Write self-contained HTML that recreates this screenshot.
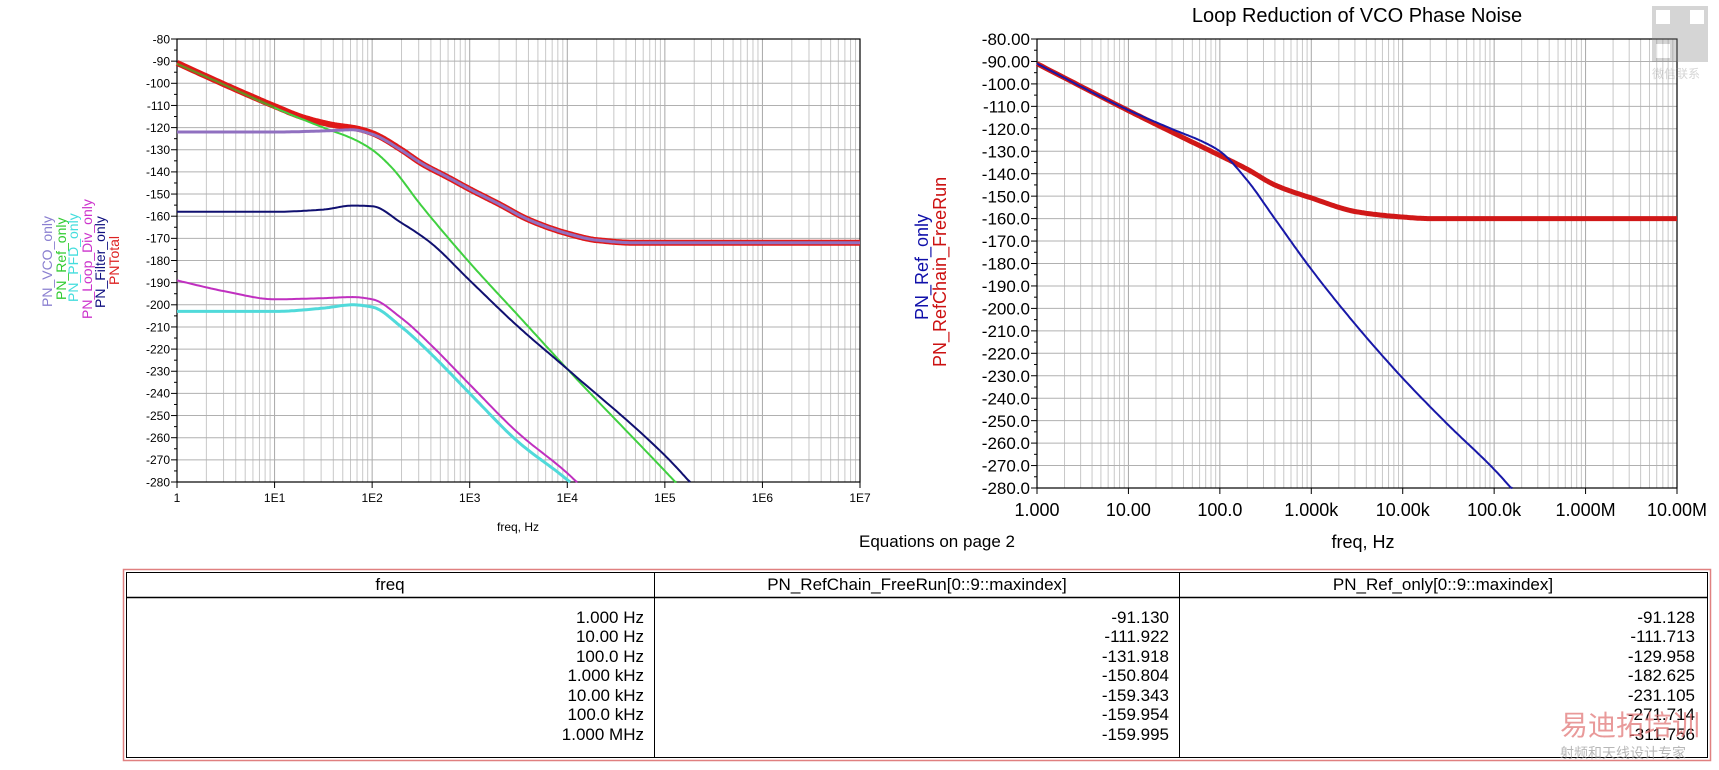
<!DOCTYPE html>
<html><head><meta charset="utf-8">
<style>
html,body{margin:0;padding:0;background:#fff;}
svg{display:block;font-family:"Liberation Sans",Arial,sans-serif;}
</style></head>
<body>
<svg id="s" width="1719" height="770" xmlns="http://www.w3.org/2000/svg">
<rect width="1719" height="770" fill="#fff"/>
<g id="grid"></g>
<g id="curves"></g>
<g id="labels"></g>

<!-- left legend -->
<g font-size="14">
<text transform="translate(52,307) rotate(-90)" fill="#8a7fd0">PN_VCO_only</text>
<text transform="translate(66,300) rotate(-90)" fill="#33cc33">PN_Ref_only</text>
<text transform="translate(78,302) rotate(-90)" fill="#44dddd">PN_PFD_only</text>
<text transform="translate(92,319) rotate(-90)" fill="#cc33cc">PN_Loop_Div_only</text>
<text transform="translate(105,308) rotate(-90)" fill="#101080">PN_Filter_only</text>
<text transform="translate(119,285) rotate(-90)" fill="#dd2222">PNTotal</text>
</g>
<!-- right legend -->
<g font-size="18">
<text transform="translate(928,320) rotate(-90)" fill="#1010aa">PN_Ref_only</text>
<text transform="translate(946,367) rotate(-90)" fill="#cc1111">PN_RefChain_FreeRun</text>
</g>

<text x="1357" y="22" font-size="20" text-anchor="middle" fill="#000">Loop Reduction of VCO Phase Noise</text>
<text x="518" y="531" font-size="12" text-anchor="middle">freq, Hz</text>
<text x="1363" y="548" font-size="18" text-anchor="middle">freq, Hz</text>
<text x="937" y="547" font-size="17" text-anchor="middle">Equations on page 2</text>

<!-- QR watermark -->
<g opacity="0.35">
<rect x="1652" y="6" width="56" height="56" fill="#888"/>
<rect x="1656" y="10" width="14" height="14" fill="#fff"/><rect x="1690" y="10" width="14" height="14" fill="#fff"/><rect x="1656" y="44" width="14" height="14" fill="#fff"/>
<text x="1652" y="78" font-size="12" fill="#888" font-family="Noto Sans CJK SC,sans-serif">微信联系</text>
</g>

<!-- table -->
<g>
<rect x="123.5" y="569.5" width="1587" height="191" fill="none" stroke="#e08080" stroke-width="1.5"/>
<rect x="126.5" y="572.5" width="1581" height="185" fill="none" stroke="#000" stroke-width="1"/>
<line x1="126" y1="597.5" x2="1708" y2="597.5" stroke="#000" stroke-width="1.5"/>
<line x1="654.5" y1="572" x2="654.5" y2="758" stroke="#000"/>
<line x1="1179.5" y1="572" x2="1179.5" y2="758" stroke="#000"/>
<g font-size="17" text-anchor="middle">
<text x="390" y="590">freq</text>
<text x="917" y="590">PN_RefChain_FreeRun[0::9::maxindex]</text>
<text x="1443" y="590">PN_Ref_only[0::9::maxindex]</text>
</g>
<g font-size="17" text-anchor="end">
<text x="644" y="623">1.000  Hz</text><text x="644" y="642">10.00  Hz</text><text x="644" y="662">100.0  Hz</text><text x="644" y="681">1.000 kHz</text><text x="644" y="701">10.00 kHz</text><text x="644" y="720">100.0 kHz</text><text x="644" y="740">1.000 MHz</text>
<text x="1169" y="623">-91.130</text><text x="1169" y="642">-111.922</text><text x="1169" y="662">-131.918</text><text x="1169" y="681">-150.804</text><text x="1169" y="701">-159.343</text><text x="1169" y="720">-159.954</text><text x="1169" y="740">-159.995</text>
<text x="1695" y="623">-91.128</text><text x="1695" y="642">-111.713</text><text x="1695" y="662">-129.958</text><text x="1695" y="681">-182.625</text><text x="1695" y="701">-231.105</text><text x="1695" y="720">-271.714</text><text x="1695" y="740">-311.756</text>
</g>
<text x="1560" y="735" font-size="28" fill="#e07070" opacity="0.7" font-family="Noto Sans CJK SC,sans-serif">易迪拓培训</text>
<text x="1560" y="758" font-size="14" fill="#999" opacity="0.7" font-family="Noto Sans CJK SC,sans-serif">射频和天线设计专家</text>
</g>
</svg>
<script>
const NS="http://www.w3.org/2000/svg";
function el(p,t,a,txt){const e=document.createElementNS(NS,t);for(const k in a)e.setAttribute(k,a[k]);if(txt!==undefined)e.textContent=txt;document.getElementById(p).appendChild(e);return e;}
function plot(P){
  const {x0,x1,y0,y1}=P;
  const X=l=>x0+l/7*(x1-x0), Y=d=>y0+(-80-d)/200*(y1-y0);
  for(let dec=0;dec<7;dec++)for(let m=2;m<10;m++){const x=X(dec+Math.log10(m));el("grid","line",{x1:x,y1:y0,x2:x,y2:y1,stroke:"#c8c8c8","stroke-width":1});}
  for(let dec=1;dec<7;dec++){const x=X(dec);el("grid","line",{x1:x,y1:y0,x2:x,y2:y1,stroke:"#a8a8a8","stroke-width":1});}
  for(let d=-90;d>-280;d-=10){const y=Y(d);el("grid","line",{x1:x0,y1:y,x2:x1,y2:y,stroke:"#b0b0b0","stroke-width":1});}
  el("grid","rect",{x:x0,y:y0,width:x1-x0,height:y1-y0,fill:"none",stroke:"#000","stroke-width":1.2});
  for(let d=-80;d>=-280;d-=5){const y=Y(d);el("grid","line",{x1:x0-(d%10==0?6:3),y1:y,x2:x0,y2:y,stroke:"#000"});
    if(d%10==0)el("labels","text",{x:x0-7,y:y+P.fs*0.36,"font-size":P.fs,"text-anchor":"end"},P.yl(d));}
  for(let dec=0;dec<=7;dec++){const x=X(dec);el("grid","line",{x1:x,y1:y1,x2:x,y2:y1+6,stroke:"#000"});
    el("labels","text",{x:x,y:P.xly,"font-size":P.xfs,"text-anchor":"middle"},P.xl[dec]);}
  return [X,Y];
}
function interp(pts){ // monotone cubic (PCHIP)
  const n=pts.length,h=[],d=[],m=[];
  for(let i=0;i<n-1;i++){h[i]=pts[i+1][0]-pts[i][0];d[i]=(pts[i+1][1]-pts[i][1])/h[i];}
  m[0]=d[0];m[n-1]=d[n-2];
  for(let i=1;i<n-1;i++){if(d[i-1]*d[i]<=0)m[i]=0;else{const w1=2*h[i]+h[i-1],w2=h[i]+2*h[i-1];m[i]=(w1+w2)/(w1/d[i-1]+w2/d[i]);}}
  const out=[];
  for(let i=0;i<n-1;i++){for(let t=0;t<1;t+=0.05){const t2=t*t,t3=t2*t;
    const y=(2*t3-3*t2+1)*pts[i][1]+(t3-2*t2+t)*h[i]*m[i]+(-2*t3+3*t2)*pts[i+1][1]+(t3-t2)*h[i]*m[i+1];
    out.push([pts[i][0]+t*h[i],y]);}}
  out.push(pts[n-1]);return out;}
function curve(XY,pts,col,w,op){const [X,Y]=XY;const s=interp(pts).filter((p,i,a)=>i==0||a[i-1][1]>-280).map((p,i)=>(i?"L":"M")+X(p[0]).toFixed(1)+" "+Y(Math.max(-280,p[1])).toFixed(1)).join(" ");
  el("curves","path",{d:s,fill:"none",stroke:col,"stroke-width":w,"stroke-linejoin":"round",opacity:op||1});}

const L=plot({x0:177,x1:860,y0:39,y1:482,fs:12,xfs:12,xly:502,yl:d=>String(d),xl:["1","1E1","1E2","1E3","1E4","1E5","1E6","1E7"]});
const R=plot({x0:1037,x1:1677,y0:39,y1:488,fs:17,xfs:18,xly:516,yl:d=>d>-100?d.toFixed(2):d.toFixed(1),xl:["1.000","10.00","100.0","1.000k","10.00k","100.0k","1.000M","10.00M"]});

const total=[[0,-90.8],[0.5,-100.8],[1,-110.3],[1.3,-115.5],[1.6,-118.8],[1.85,-120.5],[2,-122.5],[2.3,-130],[2.5,-136],[2.8,-143],[3,-147.8],[3.3,-154.5],[3.6,-161.5],[4,-167.8],[4.3,-170.8],[4.7,-172],[7,-172]];
curve(L,total,"#e01818",6);
curve(L,[[0,-91.2],[0.5,-101],[1,-111],[1.5,-120],[1.8,-125],[2,-130],[2.2,-138],[2.5,-155],[3,-181],[3.5,-205],[4,-229],[5,-275],[5.3,-289]],"#40d040",2);
curve(L,[[0,-122],[1,-122],[1.5,-121.5],[1.8,-121],[2,-123],[2.3,-130.2],[2.5,-136],[2.8,-143],[3,-147.8],[3.3,-154.5],[3.6,-161.5],[4,-167.8],[4.3,-170.8],[4.7,-172],[7,-172]],"#9070c0",3);
curve(L,[[0,-91.2],[0.5,-101],[1,-110.8]],"#6a8a20",2);
curve(L,[[0,-158],[1,-158],[1.5,-157],[1.8,-155.2],[2,-155.5],[2.3,-163],[2.6,-172],[3,-189],[3.5,-210],[4,-229],[5,-268],[5.4,-287]],"#101070",2);
curve(L,[[0,-189],[0.5,-194],[1,-197.5],[1.5,-197],[1.8,-196.5],[2,-197.5],[2.3,-206],[2.6,-218],[3,-236],[3.5,-258],[4,-276],[4.3,-289]],"#c030c0",2);
curve(L,[[0,-203],[1,-203],[1.5,-201.5],[1.8,-200],[2,-201],[2.3,-210],[2.6,-222],[3,-240],[3.5,-262],[4,-279],[4.3,-291]],"#50dada",3);

curve(R,[[0,-91],[1,-111.9],[1.5,-122],[2,-131.9],[2.3,-138],[2.6,-145],[3,-150.8],[3.5,-157],[4,-159.3],[4.3,-160],[7,-160]],"#d01818",5);
curve(R,[[0,-91],[1,-111.7],[1.5,-120.5],[1.8,-125.5],[2,-130],[2.3,-143],[2.6,-160],[3,-182.6],[3.5,-208],[4,-231.1],[4.5,-252],[5,-271.7],[5.4,-290]],"#1818a8",2);
</script>
</body></html>
